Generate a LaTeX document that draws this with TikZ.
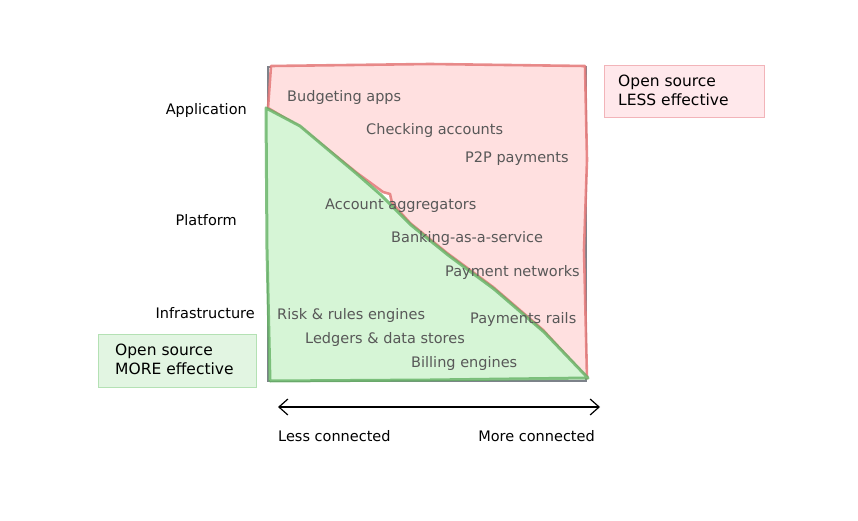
\documentclass[tikz,border=0pt]{standalone}
\usepackage{fontspec}
\setmainfont{DejaVu Sans}
\usepackage{tikz}
\usetikzlibrary{arrows.meta}
\usepackage{xcolor}

\definecolor{redfill}{RGB}{255,224,224}
\definecolor{redline}{RGB}{228,120,120}
\definecolor{greenfill}{RGB}{214,245,214}
\definecolor{greenline}{RGB}{100,178,100}
\definecolor{boxred}{RGB}{255,232,235}
\definecolor{boxredline}{RGB}{242,180,185}
\definecolor{boxgreen}{RGB}{226,245,226}
\definecolor{boxgreenline}{RGB}{180,225,180}
\definecolor{inktext}{RGB}{88,88,88}
\definecolor{frame}{RGB}{125,130,138}

\tikzset{
  item/.style={anchor=west,text=inktext,font=\fontsize{14.5}{17}\selectfont,inner sep=0pt},
  layer/.style={anchor=east,text=black,font=\fontsize{14.5}{17}\selectfont,inner sep=0pt},
  legend/.style={anchor=north west,align=left,text=black,font=\fontsize{15.5}{19}\selectfont,inner sep=0pt}
}

\begin{document}
\begin{tikzpicture}[x=1pt,y=-1pt]
    \useasboundingbox (0,0) rectangle (858,521);
    \draw[frame,line width=1.2pt] (268,67) rectangle (586,381);
    \filldraw[fill=redfill,draw=redline,draw opacity=0.85,line width=2.6pt,line join=round]
      (271,66) -- (430,64) -- (585,66) -- (587,160) -- (584,250) -- (587,378)
      -- (543,330) -- (493,287) -- (447,253) -- (410,223) -- (392,203) -- (390,194)
      -- (383,192) -- (357,173) -- (300,127) -- (268,108) -- (270,80) -- cycle;
    \filldraw[fill=greenfill,draw=greenline,draw opacity=0.8,line width=3pt,line join=round]
      (266,108) -- (300,126) -- (357,174) -- (381,195) -- (411,225) -- (448,255)
      -- (494,289) -- (544,332) -- (588,378) -- (430,380) -- (270,381) -- (267,250) -- cycle;
    \node[layer] (app) at (247,111) {Application};
    \node[layer] (plat) at (237,220) {Platform};
    \node[layer] (infra) at (255,313) {Infrastructure};
    \node[item] (budget) at (287,98) {Budgeting apps};
    \node[item] (check) at (366,131) {Checking accounts};
    \node[item] (ptwop) at (465,159) {P2P payments};
    \node[item] (aggr) at (325,206) {Account aggregators};
    \node[item] (baas) at (391,238) {Banking-as-a-service};
    \node[item] (paynet) at (445,272) {Payment networks};
    \node[item] (rails) at (470,319) {Payments rails};
    \node[item] (risk) at (277,315) {Risk \& rules engines};
    \node[item] (ledger) at (305,339) {Ledgers \& data stores};
    \node[item] (billing) at (411,363) {Billing engines};
    \filldraw[fill=boxred,draw=boxredline,line width=1pt] (604,66) rectangle (764,118);
    \node[legend] (less) at (618,75) {Open source\\LESS effective};
    \filldraw[fill=boxgreen,draw=boxgreenline,line width=1pt] (98,334) rectangle (256,387);
    \node[legend] (more) at (115,344) {Open source\\MORE effective};
    \coordinate (arrL) at (278,407);
    \coordinate (arrR) at (600,407);
    \draw[line width=1.2pt,{Straight Barb[length=9pt,width=16pt]}-{Straight Barb[length=9pt,width=16pt]}] (arrL) -- (arrR);
    \node[item,text=black] (lessc) at (278,436) {Less connected};
    \node[item,text=black,anchor=east] (morec) at (595,436) {More connected};
  \end{tikzpicture}
\end{document}
